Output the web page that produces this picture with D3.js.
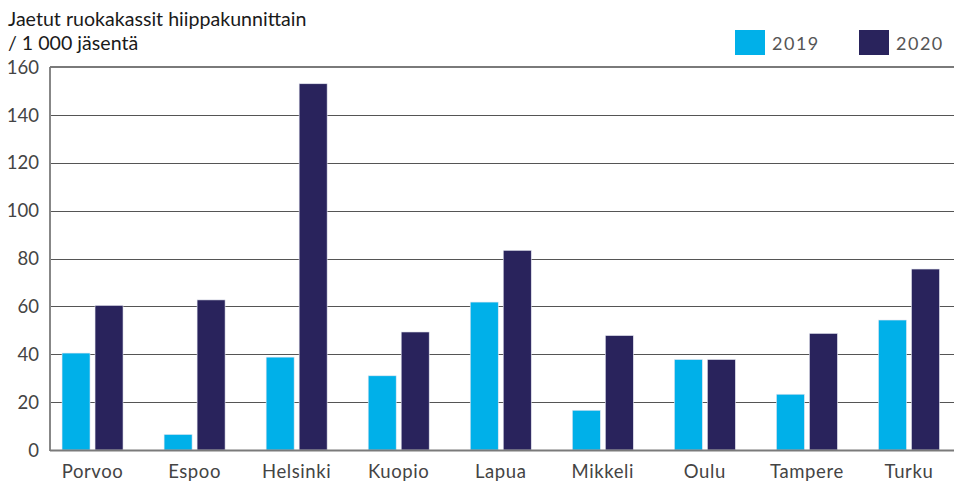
<!DOCTYPE html>
<html>
<head>
<meta charset="utf-8">
<script src="https://cdn.jsdelivr.net/npm/d3@7"></script>
<style>
  body { margin: 0; background: #fff; }
  svg { display: block; font-family: Lato, "Open Sans", sans-serif; }
</style>
</head>
<body>
<svg id="chart" width="954" height="481"></svg>
<script>
// data
var categories = ["Porvoo", "Espoo", "Helsinki", "Kuopio", "Lapua", "Mikkeli", "Oulu", "Tampere", "Turku"];
var seriesNames = ["2019", "2020"];
var values2019 = [40.5, 6.5, 38.8, 31, 61.8, 16.6, 37.8, 23.3, 54.3];
var values2020 = [60.4, 62.7, 153, 49.3, 83.4, 47.8, 37.8, 48.7, 75.6];
var yTicks = [0, 20, 40, 60, 80, 100, 120, 140, 160];
var colors = ["#00b0e9", "#29235c"];

var svg = d3.select("#chart");
var W = 954, H = 481;
var plotLeft = 50, plotTop = 67, plotBottom = 450;

var y = d3.scaleLinear().domain([0, 160]).range([plotBottom, plotTop]);
var x = d3.scaleBand().domain(categories).range([41.5, 960]).paddingInner(0.4).paddingOuter(0.2);
// group occupies 61px: two 28px bars with 5px gap
var x1 = d3.scaleBand().domain(seriesNames).range([-30.5, 30.5]).paddingInner(5 / 33);

var rows = categories.map(function(c, i) {
  return { cat: c, vals: [values2019[i], values2020[i]] };
});

// title
var title = svg.append("g").attr("fill", "#1a1a1a").attr("font-size", 19.6);
title.append("text").attr("x", 8).attr("y", 26).text("Jaetut ruokakassit hiippakunnittain");
title.append("text").attr("x", 8).attr("y", 50).text("/ 1 000 jäsentä");

// grid lines
svg.append("g").selectAll("line").data(yTicks.filter(function(t) { return t > 0 && t < 160; }))
  .enter().append("line")
  .attr("x1", plotLeft + 1).attr("x2", W)
  .attr("y1", function(d) { return Math.round(y(d)) + 0.5; })
  .attr("y2", function(d) { return Math.round(y(d)) + 0.5; })
  .attr("stroke", "#555").attr("stroke-width", 1.2);

// y tick labels
svg.append("g").attr("fill", "#444").attr("font-size", 18.5).attr("text-anchor", "end")
  .selectAll("text").data(yTicks).enter().append("text")
  .attr("x", 39).attr("y", function(d) { return y(d); })
  .attr("dy", "0.36em")
  .text(function(d) { return d; });

// bars
var groups = svg.append("g").selectAll("g").data(rows).enter().append("g")
  .attr("transform", function(d) { return "translate(" + (x(d.cat) + x.bandwidth() / 2) + ",0)"; });
groups.selectAll("rect").data(function(d) { return d.vals; }).enter().append("rect")
  .attr("x", function(d, i) { return x1(seriesNames[i]); })
  .attr("width", x1.bandwidth())
  .attr("y", function(d) { return y(d); })
  .attr("height", function(d) { return plotBottom - y(d); })
  .attr("fill", function(d, i) { return colors[i]; })
  .attr("stroke", "#e4e6f0").attr("stroke-width", 0.6);

// frame: top, left, bottom
svg.append("line").attr("x1", plotLeft).attr("x2", W).attr("y1", plotTop).attr("y2", plotTop)
  .attr("stroke", "#7a7a7a").attr("stroke-width", 2.2);
svg.append("line").attr("x1", plotLeft).attr("x2", plotLeft).attr("y1", plotTop).attr("y2", plotBottom + 1)
  .attr("stroke", "#7a7a7a").attr("stroke-width", 1.8);
svg.append("line").attr("x1", plotLeft).attr("x2", W).attr("y1", plotBottom + 0.5).attr("y2", plotBottom + 0.5)
  .attr("stroke", "#7a7a7a").attr("stroke-width", 2);

// x labels
svg.append("g").attr("fill", "#444").attr("font-size", 18.5).attr("text-anchor", "middle")
  .selectAll("text").data(categories).enter().append("text")
  .attr("x", function(d) { return x(d) + x.bandwidth() / 2; })
  .attr("y", 478)
  .attr("letter-spacing", 0.6)
  .text(function(d) { return d; });

// legend
var legendX = [735, 859];
var legend = svg.append("g").selectAll("g").data(seriesNames).enter().append("g")
  .attr("transform", function(d, i) { return "translate(" + legendX[i] + ",30)"; });
legend.append("rect").attr("width", 30).attr("height", 25)
  .attr("fill", function(d, i) { return colors[i]; });
legend.append("text").attr("x", 37).attr("y", 20)
  .attr("fill", "#555").attr("font-size", 18).attr("letter-spacing", 1.5)
  .text(function(d) { return d; });
</script>
</body>
</html>
